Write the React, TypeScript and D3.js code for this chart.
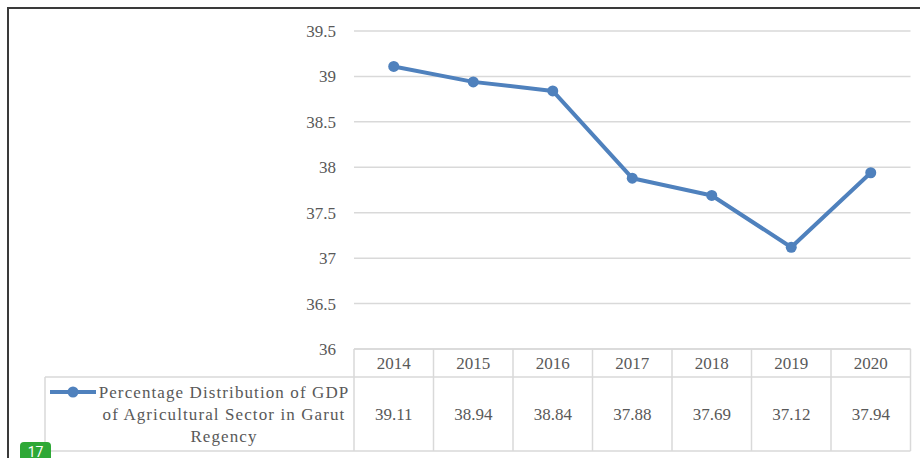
import React from 'react';
import * as d3 from 'd3';

const years = ['2014', '2015', '2016', '2017', '2018', '2019', '2020'];
const gdpShare = [39.11, 38.94, 38.84, 37.88, 37.69, 37.12, 37.94];
const yTicks = [36, 36.5, 37, 37.5, 38, 38.5, 39, 39.5];
const legendLines = ['Percentage Distribution of GDP', 'of Agricultural Sector in Garut', 'Regency'];

const W = 920;
const H = 458;
const plot = { left: 354, right: 910.5, top: 31, bottom: 349 };
const table = { left: 45, headerBottom: 377, bottom: 451 };
const FONT = "'Liberation Serif', 'DejaVu Serif', serif";
const TEXT = '#595959';
const GRID = '#d9d9d9';
const BLUE = '#4f81bd';

const App: React.FC = () => {
  const x = d3.scaleBand<string>().domain(years).range([plot.left, plot.right]).padding(0);
  const y = d3.scaleLinear().domain([36, 39.5]).range([plot.bottom, plot.top]);
  const cx = (d: string) => (x(d) as number) + x.bandwidth() / 2;

  const line = d3.line<number>()
    .x((_, i) => cx(years[i]))
    .y(d => y(d));

  const colEdges = years.map(d => x(d) as number).concat([plot.right]);
  const rowMid = (table.headerBottom + table.bottom) / 2;
  const legendCx = 224;
  const txt = { fontFamily: FONT, fontSize: 17, fill: TEXT } as React.CSSProperties;

  return (
    <svg width={W} height={H} style={{ position: 'absolute', left: 0, top: 0, display: 'block' }}>
      <rect x={0} y={0} width={W} height={H} fill="#fff" />
      {/* outer frame */}
      <rect x={8} y={8} width={W + 10} height={H + 10} fill="none" stroke="#3a3a3a" strokeWidth={2} />

      {/* gridlines */}
      {yTicks.map(t => (
        <line key={t} x1={plot.left} x2={plot.right} y1={y(t)} y2={y(t)} stroke={GRID} strokeWidth={1.5} />
      ))}
      {yTicks.map(t => (
        <text key={'l' + t} x={336} y={y(t)} dy="0.35em" textAnchor="end" style={txt}>{t}</text>
      ))}

      {/* data table */}
      <g stroke={GRID} strokeWidth={1.5} fill="none">
        <line x1={plot.left} x2={plot.right} y1={plot.bottom} y2={plot.bottom} />
        <line x1={table.left} x2={plot.right} y1={table.headerBottom} y2={table.headerBottom} />
        <line x1={table.left} x2={plot.right} y1={table.bottom} y2={table.bottom} />
        <line x1={table.left} x2={table.left} y1={table.headerBottom} y2={table.bottom} />
        {colEdges.map((e, i) => (
          <line key={i} x1={e} x2={e} y1={plot.bottom} y2={table.bottom} />
        ))}
      </g>
      {years.map(d => (
        <text key={'y' + d} x={cx(d)} y={(plot.bottom + table.headerBottom) / 2} dy="0.35em"
          textAnchor="middle" style={txt}>{d}</text>
      ))}
      {gdpShare.map((v, i) => (
        <text key={'v' + i} x={cx(years[i])} y={rowMid} dy="0.35em"
          textAnchor="middle" style={txt}>{v.toFixed(2)}</text>
      ))}

      {/* legend key */}
      <line x1={50} x2={96} y1={392} y2={392} stroke={BLUE} strokeWidth={4} />
      <circle cx={73} cy={392} r={5.5} fill={BLUE} />
      {legendLines.map((s, i) => (
        <text key={'g' + i} x={legendCx} y={392 + i * 22} dy="0.35em" textAnchor="middle"
          style={{ ...txt, letterSpacing: 1.1 }}>{s}</text>
      ))}

      {/* series */}
      <path d={line(gdpShare) || ''} fill="none" stroke={BLUE} strokeWidth={4} strokeLinejoin="round" />
      {gdpShare.map((v, i) => (
        <circle key={'p' + i} cx={cx(years[i])} cy={y(v)} r={5.5} fill={BLUE} />
      ))}

      {/* page badge */}
      <rect x={20} y={442} width={31} height={24} rx={4} fill="#2ea836" />
      <text x={35.5} y={457} textAnchor="middle" fontSize={14} fontFamily="Roboto, sans-serif" fill="#fff">17</text>
    </svg>
  );
};

export default App;
